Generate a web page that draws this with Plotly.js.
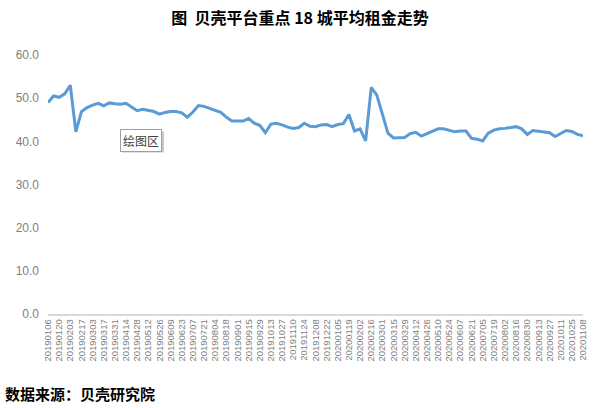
<!DOCTYPE html>
<html>
<head>
<meta charset="utf-8">
<script src="https://cdn.plot.ly/plotly-3.0.1.min.js"></script>
<style>
html,body{margin:0;padding:0;background:#fff;}
#chart{width:600px;height:408px;}
</style>
</head>
<body>
<div id="chart"></div>
<script>
const chartTitle = "图  贝壳平台重点 18 城平均租金走势";
const sourceText = "数据来源：贝壳研究院";
const plotAreaLabel = "绘图区";

const weeks = [
"20190106","20190113","20190120","20190127","20190203","20190210","20190217","20190224",
"20190303","20190310","20190317","20190324","20190331","20190407","20190414","20190421","20190428",
"20190505","20190512","20190519","20190526","20190602","20190609","20190616","20190623","20190630",
"20190707","20190714","20190721","20190728","20190804","20190811","20190818","20190825",
"20190901","20190908","20190915","20190922","20190929","20191006","20191013","20191020","20191027",
"20191103","20191110","20191117","20191124","20191201","20191208","20191215","20191222","20191229",
"20200105","20200112","20200119","20200126","20200202","20200209","20200216","20200223",
"20200301","20200308","20200315","20200322","20200329","20200405","20200412","20200419","20200426",
"20200503","20200510","20200517","20200524","20200531","20200607","20200614","20200621","20200628",
"20200705","20200712","20200719","20200726","20200802","20200809","20200816","20200823","20200830",
"20200906","20200913","20200920","20200927","20201004","20201011","20201018","20201025","20201101","20201108"
];

const avgRent = [
49.0,50.5,50.2,51.0,53.0,42.2,46.9,47.8,48.4,48.8,
48.2,48.9,48.7,48.6,48.8,48.0,47.1,47.4,47.2,46.9,
46.3,46.7,46.9,46.9,46.6,45.6,46.8,48.3,48.1,47.6,
47.2,46.7,45.6,44.7,44.7,44.7,45.3,44.2,43.7,42.0,
44.0,44.2,43.8,43.3,43.0,43.2,44.2,43.5,43.4,43.8,
43.9,43.4,43.9,44.1,46.2,42.4,42.9,40.1,52.5,50.7,
46.3,41.9,40.8,40.8,40.9,41.8,42.1,41.2,41.8,42.4,
42.9,42.9,42.6,42.2,42.4,42.4,40.7,40.5,40.1,41.9,
42.6,42.9,43.0,43.2,43.4,42.9,41.6,42.5,42.3,42.1,
42.0,41.1,41.9,42.5,42.3,41.6,41.3
];

const shownTicks = weeks.filter((d, i) => i % 2 === 0);

const cjk = '"Noto Sans CJK SC", "Noto Sans", sans-serif';
const latin = 'Arial, "Liberation Sans", sans-serif';

// helpers converting page pixels to paper fractions (plot area 48..583 x 55..314)
const px = v => (v - 48) / 535;
const py = v => (314 - v) / 259;

const trace = {
  type: 'scatter',
  mode: 'lines',
  x: weeks,
  y: avgRent,
  line: {color: '#5B9BD5', width: 3},
  hoverinfo: 'x+y'
};

const layout = {
  width: 600,
  height: 408,
  margin: {l: 48, r: 17, t: 55, b: 94},
  paper_bgcolor: '#ffffff',
  plot_bgcolor: '#ffffff',
  showlegend: false,
  title: {
    text: '<b>' + chartTitle + '</b>',
    font: {family: cjk, size: 16, color: '#000000'},
    x: 0.5, xref: 'container', xanchor: 'center',
    y: 1 - 18/408, yref: 'container', yanchor: 'middle'
  },
  xaxis: {
    type: 'category',
    range: [0, weeks.length - 1],
    tickmode: 'array',
    tickvals: shownTicks,
    ticktext: shownTicks,
    tickangle: -90,
    tickfont: {family: latin, size: 9.5, color: '#808080'},
    showgrid: false,
    zeroline: false,
    showline: true,
    linecolor: '#d9d9d9',
    linewidth: 1.5,
    ticks: '',
    fixedrange: true
  },
  yaxis: {
    range: [0, 60],
    dtick: 10,
    tick0: 0,
    tickformat: '.1f',
    tickfont: {family: latin, size: 12, color: '#808080'},
    showgrid: false,
    zeroline: false,
    showline: false,
    ticks: '',
    ticklabelstandoff: 8,
    fixedrange: true
  },
  shapes: [
    {
      type: 'rect', xref: 'paper', yref: 'paper', layer: 'above',
      x0: px(122), x1: px(164), y0: py(152.5), y1: py(131.5),
      fillcolor: '#c8c8c8', line: {width: 0}
    }
  ],
  annotations: [
    {
      xref: 'paper', yref: 'paper',
      x: px(141), y: py(140),
      xanchor: 'center', yanchor: 'middle',
      text: plotAreaLabel,
      showarrow: false,
      font: {family: cjk, size: 12, color: '#404040'},
      bgcolor: '#ffffff',
      bordercolor: '#a0a0a0',
      borderwidth: 1,
      borderpad: 2
    },
    {
      xref: 'paper', yref: 'paper',
      x: px(3), y: py(393),
      xanchor: 'left', yanchor: 'middle',
      text: '<b>' + sourceText + '</b>',
      showarrow: false,
      font: {family: cjk, size: 15, color: '#000000'}
    }
  ]
};

Plotly.newPlot('chart', [trace], layout, {displayModeBar: false, staticPlot: true});
</script>
</body>
</html>
